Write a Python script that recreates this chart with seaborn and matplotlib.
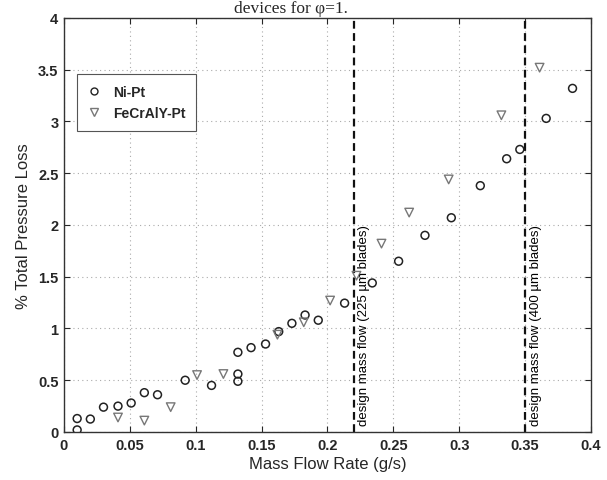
import numpy as np
import pandas as pd
import seaborn as sns
import matplotlib.pyplot as plt
from matplotlib.lines import Line2D

# data
ni_x = [0.010, 0.010, 0.020, 0.030, 0.041, 0.051, 0.061, 0.071, 0.092, 0.112,
        0.132, 0.132, 0.132, 0.142, 0.153, 0.163, 0.173, 0.183, 0.193, 0.213,
        0.234, 0.254, 0.274, 0.294, 0.316, 0.336, 0.346, 0.366, 0.386]
ni_y = [0.13, 0.02, 0.125, 0.24, 0.25, 0.28, 0.38, 0.36, 0.50, 0.45,
        0.56, 0.49, 0.77, 0.815, 0.85, 0.97, 1.05, 1.13, 1.08, 1.245,
        1.44, 1.65, 1.90, 2.07, 2.38, 2.64, 2.73, 3.03, 3.32]

fe_x = [0.041, 0.061, 0.081, 0.101, 0.121, 0.162, 0.182, 0.202, 0.222,
        0.241, 0.262, 0.292, 0.332, 0.361]
fe_y = [0.14, 0.11, 0.24, 0.55, 0.56, 0.94, 1.06, 1.27, 1.51,
        1.82, 2.12, 2.44, 3.06, 3.52]

design_flows = [0.22, 0.35]
design_labels = ['design mass flow (225 µm blades)', 'design mass flow (400 µm blades)']

x_ticks = [0, 0.05, 0.1, 0.15, 0.2, 0.25, 0.3, 0.35, 0.4]
x_tick_labels = ['0', '0.05', '0.1', '0.15', '0.2', '0.25', '0.3', '0.35', '0.4']
y_ticks = [0, 0.5, 1, 1.5, 2, 2.5, 3, 3.5, 4]
y_tick_labels = ['0', '0.5', '1', '1.5', '2', '2.5', '3', '3.5', '4']

df_ni = pd.DataFrame({'flow': ni_x, 'loss': ni_y})
df_fe = pd.DataFrame({'flow': fe_x, 'loss': fe_y})

sns.set_style('ticks')
plt.rcParams['font.family'] = ['Liberation Sans', 'DejaVu Sans']

fig = plt.figure(figsize=(6.07, 4.81), dpi=100)
ax = fig.add_axes([0.1054, 0.0998, 0.8682, 0.8607])

# 两组数据，空心标记
sns.scatterplot(data=df_ni, x='flow', y='loss', ax=ax, marker='o', s=32,
                facecolor='none', edgecolor='#222222', linewidth=1.1, zorder=3)
sns.scatterplot(data=df_fe, x='flow', y='loss', ax=ax, marker='v', s=38,
                facecolor='none', edgecolor='#777777', linewidth=1.0, zorder=3)

for xv, lab in zip(design_flows, design_labels):
    ax.axvline(xv, color='#111111', linestyle=(0, (3.5, 2)), linewidth=1.6, zorder=2)
    ax.text(xv + 0.0035, 0.07, lab, rotation=90, ha='left', va='bottom',
            fontsize=9.5, color='black')

ax.set_xlim(0, 0.4)
ax.set_ylim(0, 4)
ax.set_xticks(x_ticks)
ax.set_xticklabels(x_tick_labels, fontweight='bold', fontsize=10.5)
ax.set_yticks(y_ticks)
ax.set_yticklabels(y_tick_labels, fontweight='bold', fontsize=10.5)
ax.tick_params(direction='in', top=True, right=True, length=4, width=0.8, pad=4)
ax.grid(True, linestyle=(0, (1, 3)), color='#aaaaaa', linewidth=0.8)
for sp in ax.spines.values():
    sp.set_color('#333333')
    sp.set_linewidth(1.0)

ax.set_xlabel('Mass Flow Rate (g/s)', fontsize=12, labelpad=3)
ax.set_ylabel('% Total Pressure Loss', fontsize=12, labelpad=5)

handles = [
    Line2D([], [], linestyle='none', marker='o', markersize=5, markerfacecolor='none',
           markeredgecolor='#222222', markeredgewidth=1.0, label='Ni-Pt'),
    Line2D([], [], linestyle='none', marker='v', markersize=5.5, markerfacecolor='none',
           markeredgecolor='#777777', markeredgewidth=1.0, label='FeCrAlY-Pt'),
]
leg = ax.legend(handles=handles, loc='upper left', bbox_to_anchor=(0.024, 0.864),
                frameon=True, fancybox=False, framealpha=1, edgecolor='#555555',
                prop={'weight': 'bold', 'size': 10}, handletextpad=0.9,
                borderpad=0.75, labelspacing=0.55, handlelength=1.0,
                borderaxespad=0)
leg.get_frame().set_linewidth(0.8)

# 上方被截掉的图注
fig.text(0.48, 0.974, 'devices for φ=1.', ha='center', va='baseline',
         fontsize=12.5, family=['Liberation Serif', 'DejaVu Serif'])

fig.savefig('out.png', dpi=100, facecolor='white')
